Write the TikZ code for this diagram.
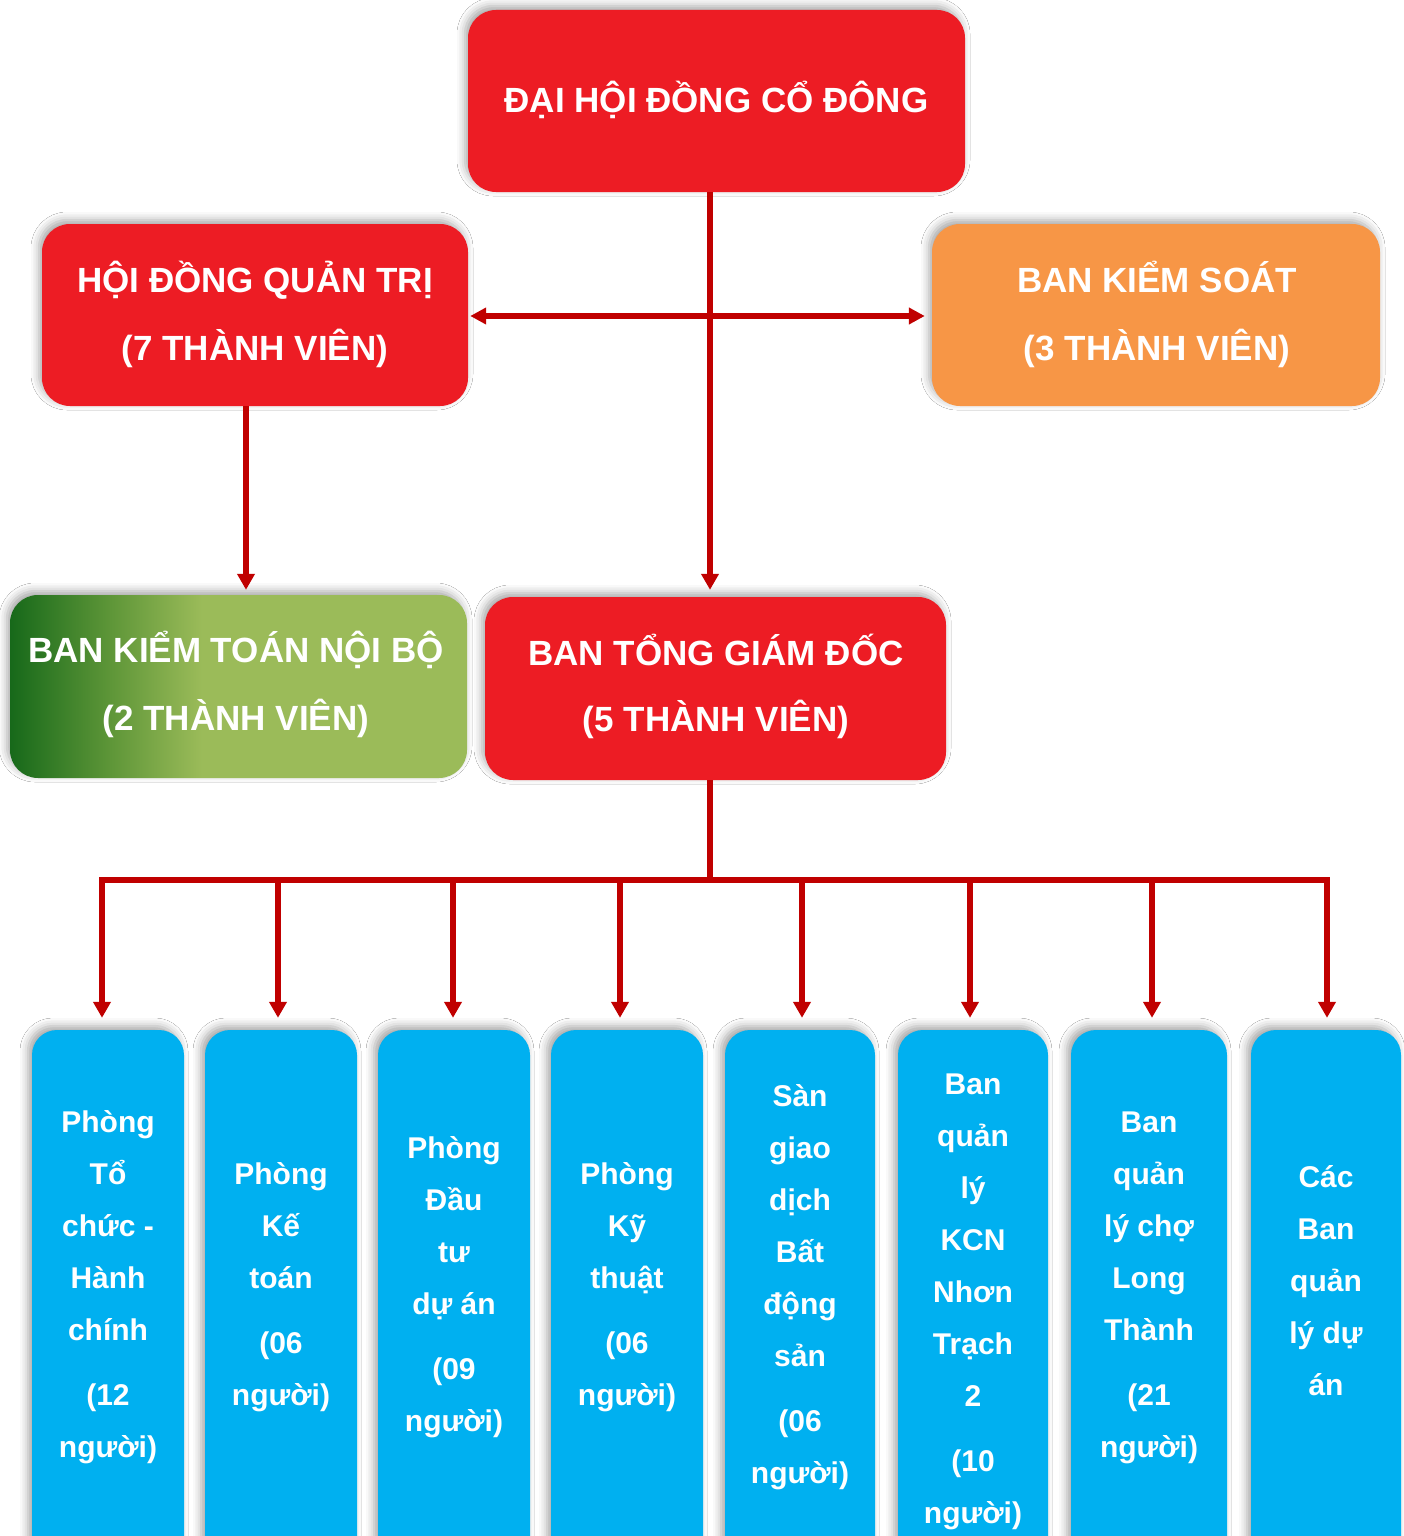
\documentclass[tikz,border=0pt]{standalone}
\usepackage{fontspec}
\setmainfont{Liberation Sans}
\usetikzlibrary{arrows.meta,shadows.blur,calc}
\definecolor{cred}{HTML}{ED1C24}
\definecolor{corange}{HTML}{F79646}
\definecolor{cblue}{HTML}{00B0F0}
\definecolor{cline}{HTML}{C00000}
\definecolor{gdark}{HTML}{17691A}
\definecolor{gmid}{HTML}{5E9638}
\definecolor{glight}{HTML}{9BBB59}
\pgfdeclarehorizontalshading{greensh}{100bp}{color(0bp)=(gdark); color(25bp)=(gdark); color(36bp)=(gmid); color(46bp)=(glight); color(100bp)=(glight)}
\newcommand{\stackb}[2]{\vtop{\baselineskip=#1\lineskiplimit=-100pt\lineskip=0pt\halign{\hfil##\hfil\cr#2\crcr}}}
\begin{document}
\begin{tikzpicture}[x=1pt,y=-1pt,
  topbox/.style={rectangle, rounded corners=28pt, inner sep=0pt,
    blur shadow={shadow xshift=-3pt, shadow yshift=4pt, shadow blur radius=8pt, shadow opacity=35}},
  lowbox/.style={rectangle, rounded corners=25pt, inner sep=0pt, fill=cblue,
    minimum height=570pt,
    blur shadow={shadow xshift=-4pt, shadow yshift=4pt, shadow blur radius=8pt, shadow opacity=35}},
  htext/.style={anchor=base, inner sep=0pt, text=white, font=\fontsize{35}{40}\selectfont\bfseries},
  ltext/.style={anchor=base, inner sep=0pt, text=white, font=\fontsize{30}{36}\selectfont\bfseries},
  ln/.style={draw=cline, line width=5.5pt},
  ar/.style={ln, -{Triangle[width=17pt,length=16pt]}},
  dar/.style={ln, {Triangle[width=16pt,length=16pt]}-{Triangle[width=16pt,length=16pt]}}
]
\clip (0,0) rectangle (1404,1536);
\fill[white] (0,0) rectangle (1404,1536);

% top boxes
\node[topbox, fill=cred, minimum width=497pt, minimum height=182pt] (dhd) at (716.5,101) {};
\node[topbox, fill=cred, minimum width=426pt, minimum height=182pt] (hdqt) at (255,315) {};
\node[topbox, fill=corange, minimum width=448pt, minimum height=182pt] (bks) at (1156,315) {};
\node[topbox, shading=greensh, minimum width=457pt, minimum height=183pt] (bktnb) at (238.5,686.5) {};
\node[topbox, fill=cred, minimum width=461pt, minimum height=183pt] (btgd) at (715.5,688.5) {};

% bottom boxes
\node[lowbox, minimum width=152pt] (b1) at (108,1315) {};
\node[lowbox, minimum width=152pt] (b2) at (281,1315) {};
\node[lowbox, minimum width=152pt] (b3) at (454,1315) {};
\node[lowbox, minimum width=152pt] (b4) at (627,1315) {};
\node[lowbox, minimum width=150pt] (b5) at (800,1315) {};
\node[lowbox, minimum width=150pt] (b6) at (973,1315) {};
\node[lowbox, minimum width=156pt] (b7) at (1149,1315) {};
\node[lowbox, minimum width=150pt] (b8) at (1326,1315) {};

% connectors
\coordinate (j) at (710,316);
\coordinate (k) at (246,0);
\coordinate (busL) at (102,880);
\coordinate (busR) at (1327,880);
\draw[ar, shorten >=7pt] (dhd.south -| j) -- (btgd.north -| j);
\draw[dar, shorten <=2pt, shorten >=7pt] (hdqt.east |- j) -- (bks.west |- j);
\draw[ar, shorten >=5pt] (hdqt.south -| k) -- (bktnb.north -| k);
\draw[ln] (btgd.south -| j) -- (j |- busL);
\draw[ln, line cap=rect] (busL) -- (busR);
\foreach \b/\dx in {b1/-6,b2/-3,b3/-1,b4/-7,b5/2,b6/-3,b7/3,b8/1}
  \draw[ar] ($(\b.north |- busL)+(\dx,0)$) -- ($(\b.north)+(\dx,-12)$);

% header texts
\node[htext] (t0) at (716.5,113) {ĐẠI HỘI ĐỒNG CỔ ĐÔNG};
\node[htext] (t1) at (255,292) {\stackb{68pt}{HỘI ĐỒNG QUẢN TRỊ\cr (7 THÀNH VIÊN)}};
\node[htext] (t2) at (1157,292) {\stackb{68pt}{BAN KIỂM SOÁT\cr (3 THÀNH VIÊN)}};
\node[htext] (t3) at (236,662) {\stackb{68pt}{BAN KIỂM TOÁN NỘI BỘ\cr (2 THÀNH VIÊN)}};
\node[htext] (t4) at (716,665) {\stackb{66pt}{BAN TỔNG GIÁM ĐỐC\cr (5 THÀNH VIÊN)}};

% lower texts
\node[ltext] (l1) at (108,1132) {\stackb{52pt}{Phòng\cr Tổ\cr chức -\cr Hành\cr chính\cr\noalign{\vskip13pt}(12\cr người)}};
\node[ltext] (l2) at (281,1184) {\stackb{52pt}{Phòng\cr Kế\cr toán\cr\noalign{\vskip13pt}(06\cr người)}};
\node[ltext] (l3) at (454,1158) {\stackb{52pt}{Phòng\cr Đầu\cr tư\cr dự án\cr\noalign{\vskip13pt}(09\cr người)}};
\node[ltext] (l4) at (627,1184) {\stackb{52pt}{Phòng\cr Kỹ\cr thuật\cr\noalign{\vskip13pt}(06\cr người)}};
\node[ltext] (l5) at (800,1106) {\stackb{52pt}{Sàn\cr giao\cr dịch\cr Bất\cr động\cr sản\cr\noalign{\vskip13pt}(06\cr người)}};
\node[ltext] (l6) at (973,1094) {\stackb{52pt}{Ban\cr quản\cr lý\cr KCN\cr Nhơn\cr Trạch\cr 2\cr\noalign{\vskip13pt}(10\cr người)}};
\node[ltext] (l7) at (1149,1132) {\stackb{52pt}{Ban\cr quản\cr lý chợ\cr Long\cr Thành\cr\noalign{\vskip13pt}(21\cr người)}};
\node[ltext] (l8) at (1326,1187) {\stackb{52pt}{Các\cr Ban\cr quản\cr lý dự\cr án}};
\end{tikzpicture}
\end{document}
